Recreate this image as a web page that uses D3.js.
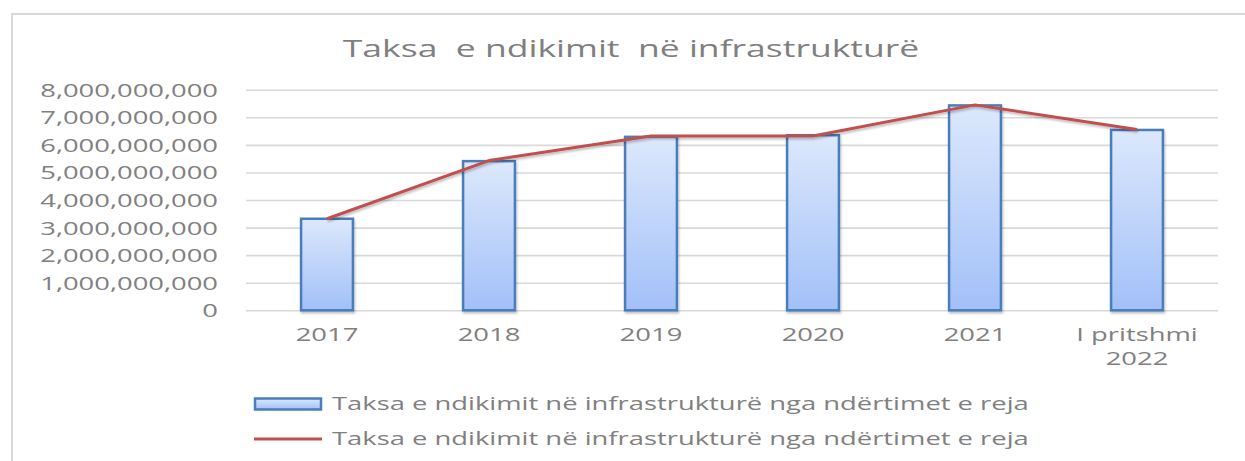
<!DOCTYPE html>
<html>
<head>
<meta charset="utf-8">
<script src="https://cdn.jsdelivr.net/npm/d3@7"></script>
<style>
  body { margin: 0; background: #fff; }
  text { font-family: "Open Sans", sans-serif; }
</style>
</head>
<body>
<div class="graphic"></div>
<script>
// data
var categories = ["2017", "2018", "2019", "2020", "2021", "I pritshmi\n2022"];
var barValues = [3320000000, 5410000000, 6290000000, 6350000000, 7430000000, 6540000000];
var lineValues = [3320000000, 5430000000, 6320000000, 6320000000, 7450000000, 6560000000];
var yTicks = [0, 1000000000, 2000000000, 3000000000, 4000000000, 5000000000, 6000000000, 7000000000, 8000000000];
var seriesName = "Taksa e ndikimit në infrastrukturë nga ndërtimet e reja";
var title = "Taksa  e ndikimit  në infrastrukturë";

var W = 1245, H = 461;
var SX = 1.48; // text in the picture is stretched sideways
var margin = { left: 246, right: 27, top: 89.7, bottom: 150.7 };

var svg = d3.select(".graphic").append("svg")
  .attr("width", W).attr("height", H);

var defs = svg.append("defs");
var grad = defs.append("linearGradient").attr("id", "barGrad")
  .attr("x1", 0).attr("y1", 0).attr("x2", 0).attr("y2", 1);
grad.append("stop").attr("offset", "0%").attr("stop-color", "#dce8fc");
grad.append("stop").attr("offset", "100%").attr("stop-color", "#a2c0f8");

var shadow = defs.append("filter").attr("id", "shadow")
  .attr("x", "-10%").attr("y", "-10%").attr("width", "130%").attr("height", "130%");
shadow.append("feDropShadow").attr("dx", 1).attr("dy", 2).attr("stdDeviation", 1.2)
  .attr("flood-color", "#000").attr("flood-opacity", 0.25);

// chart frame
svg.append("rect")
  .attr("x", 12).attr("y", 14).attr("width", W + 20).attr("height", H + 20)
  .attr("fill", "none").attr("stroke", "#d9d9d9").attr("stroke-width", 2);

// title
svg.append("text")
  .attr("transform", "translate(631,57) scale(" + SX + ",1)")
  .attr("text-anchor", "middle")
  .attr("font-size", 24)
  .attr("fill", "#7f7f7f")
  .style("white-space", "pre")
  .text(title);

var x = d3.scaleBand()
  .domain(categories)
  .range([margin.left, W - margin.right])
  .paddingInner(0.68)
  .paddingOuter(0.34);

var y = d3.scaleLinear()
  .domain([0, 8000000000])
  .range([H - margin.bottom, margin.top]);

// gridlines
var grid = svg.append("g")
  .attr("transform", "translate(" + margin.left + ",0)")
  .call(d3.axisLeft(y).tickValues(yTicks).tickSize(-(W - margin.right - margin.left)).tickFormat(""));
grid.select(".domain").remove();
grid.selectAll("line").attr("stroke", "#d9d9d9").attr("stroke-width", 1.6);

// y axis labels
var yAxis = svg.append("g")
  .attr("transform", "translate(" + margin.left + ",0)")
  .call(d3.axisLeft(y).tickValues(yTicks).tickSize(0).tickFormat(d3.format(",")));
yAxis.select(".domain").remove();
yAxis.selectAll("text")
  .attr("x", 0)
  .attr("dy", "0.35em")
  .attr("transform", "translate(-28,0) scale(" + SX + ",1)")
  .attr("font-size", 18.5)
  .attr("font-family", "'Open Sans', sans-serif")
  .attr("fill", "#808080");

// x axis labels
var xAxis = svg.append("g")
  .attr("transform", "translate(0," + (H - margin.bottom) + ")")
  .call(d3.axisBottom(x).tickSize(0));
xAxis.select(".domain").remove();
xAxis.selectAll("text")
  .attr("y", 0)
  .attr("dy", null)
  .attr("transform", "translate(0,31) scale(" + SX + ",1)")
  .attr("font-size", 18.5)
  .attr("font-family", "'Open Sans', sans-serif")
  .attr("fill", "#808080")
  .each(function(d) {
    var t = d3.select(this);
    var parts = d.split("\n");
    t.text(null);
    parts.forEach(function(p, i) {
      t.append("tspan").attr("x", 0).attr("dy", i === 0 ? 0 : 24).text(p);
    });
  });

// bars
svg.append("g")
  .selectAll("rect")
  .data(barValues)
  .join("rect")
  .attr("x", function(d, i) { return x(categories[i]); })
  .attr("y", function(d) { return y(d); })
  .attr("width", x.bandwidth())
  .attr("height", function(d) { return y(0) - y(d); })
  .attr("fill", "url(#barGrad)")
  .attr("stroke", "#4a7ebb")
  .attr("stroke-width", 2.5)
  .attr("filter", "url(#shadow)");

// line
var line = d3.line()
  .x(function(d, i) { return x(categories[i]) + x.bandwidth() / 2; })
  .y(function(d) { return y(d); });

svg.append("path")
  .datum(lineValues)
  .attr("d", line)
  .attr("fill", "none")
  .attr("stroke", "#c0504d")
  .attr("stroke-width", 3)
  .attr("stroke-linejoin", "round")
  .attr("filter", "url(#shadow)");

// legend
var legend = svg.append("g");
legend.append("rect")
  .attr("x", 255).attr("y", 398.5).attr("width", 66).attr("height", 11)
  .attr("fill", "url(#barGrad)").attr("stroke", "#4a7ebb").attr("stroke-width", 2.5);
legend.append("line")
  .attr("x1", 254).attr("x2", 322).attr("y1", 439).attr("y2", 439)
  .attr("stroke", "#c0504d").attr("stroke-width", 3);
[404, 439].forEach(function(ly) {
  legend.append("text")
    .attr("transform", "translate(332," + ly + ") scale(" + SX + ",1)")
    .attr("dy", "0.35em")
    .attr("font-size", 18.5)
    .attr("fill", "#808080")
    .text(seriesName);
});
</script>
</body>
</html>
